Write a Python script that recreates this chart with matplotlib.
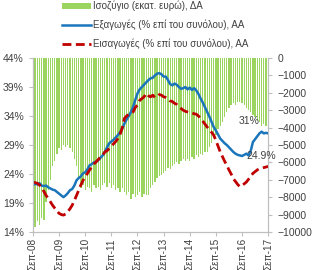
import numpy as np
import matplotlib
matplotlib.use('Agg')
import matplotlib.pyplot as plt
from matplotlib.patches import Patch
from matplotlib.lines import Line2D

plt.rcParams['font.family'] = ['Liberation Sans', 'DejaVu Sans']

# monthly data, Sep-08 .. Sep-17
exports = [22.1, 22.3, 22.2, 22.4, 22.0, 21.9, 22.0, 21.7, 21.5, 21.3, 21.2,
           20.9, 20.6, 20.3, 20.0, 20.3, 20.7, 21.2, 21.4, 22.0, 22.9,
           23.3, 23.6, 24.1, 24.3, 24.8, 25.5, 25.7, 26.0, 26.1, 26.4,
           26.8, 27.2, 27.8, 28.6, 29.3, 29.6, 29.9, 30.3, 30.7, 31.2,
           31.8, 32.7, 33.4, 34.0, 34.7, 35.6, 36.8, 37.9, 38.6, 39.0,
           39.4, 39.8, 40.2, 40.5, 40.6, 41.0, 41.3, 41.4, 41.2, 40.8,
           40.8, 40.2, 39.5, 39.3, 39.6, 39.4, 39.0, 38.7, 38.8, 39.0,
           38.6, 38.9, 38.5, 38.8, 38.4, 37.8, 37.0, 36.3, 35.5, 34.7,
           33.9, 33.0, 32.1, 31.5, 30.8, 30.1, 29.7, 29.3, 29.0, 28.6,
           28.2, 27.8, 27.5, 27.3, 27.2, 27.1, 27.3, 27.5, 27.2, 28.0,
           29.5, 30.0, 30.5, 31.0, 31.3, 31.0, 31.1, 31.0]

imports = [22.6, 22.5, 22.4, 22.1, 21.6, 21.0, 20.3, 19.8, 19.2, 18.6, 18.1,
           17.6, 17.2, 17.0, 16.9, 17.1, 17.5, 18.0, 18.6, 19.4, 20.3,
           21.2, 22.1, 22.9, 23.5, 24.1, 24.7, 25.2, 25.7, 26.1, 26.5,
           26.9, 27.2, 27.8, 28.0, 28.4, 28.8, 29.2, 29.6, 30.1, 30.8,
           32.0, 33.6, 34.0, 34.3, 34.5, 34.7, 35.5, 35.9, 36.7, 37.0,
           37.3, 37.9, 37.5, 37.3, 37.6, 37.2, 37.3, 37.7, 37.6, 37.3,
           37.2, 37.0, 36.6, 36.5, 36.2, 36.0, 35.6, 35.3, 35.0, 34.8,
           34.7, 34.6, 34.5, 34.4, 34.3, 34.0, 33.6, 33.1, 32.6, 32.1,
           31.6, 31.2, 30.7, 29.8, 28.8, 27.8, 27.0, 26.2, 25.5, 24.7,
           24.0, 23.2, 22.7, 22.2, 21.8, 22.0, 22.3, 22.6, 23.1, 23.6,
           24.1, 24.4, 24.7, 24.9, 25.0, 25.1, 25.2, 25.3]

balance = [-9500, -9700, -9400, -9600, -9200, -9300, -8300, -7600, -7000, -6200, -5900,
           -5500, -5200, -5300, -5000, -5100, -5000, -5200, -5400, -5800, -6200,
           -6900, -7500, -7300, -7600, -7400, -7500, -7700, -7300, -7500, -7400,
           -7600, -7300, -7200, -7400, -7200, -7500, -7300, -7600, -7500, -7700,
           -7500, -7700, -7900, -7700, -8100, -7800, -8000, -7900, -7700, -8000,
           -7800, -7900, -7900, -7500, -7300, -7100, -6900, -6800, -6700, -6600,
           -6500, -6300, -6400, -6200, -6100, -6000, -6100, -5900, -5800, -5900,
           -5800, -5900, -5700, -5800, -5600, -5700, -5500, -5600, -5400, -5400,
           -5100, -4900, -4600, -4400, -4100, -3900, -3700, -3400, -3100, -2900,
           -2700, -2600, -2700, -2500, -2500, -2600, -2700, -2900, -3000, -3100,
           -3300, -3400, -3600, -3700, -3900, -3800, -3900, -4000]

tick_labels = ['Σεπ-08', 'Σεπ-09', 'Σεπ-10', 'Σεπ-11', 'Σεπ-12',
               'Σεπ-13', 'Σεπ-14', 'Σεπ-15', 'Σεπ-16', 'Σεπ-17']

x = np.arange(len(exports))
grey = '#BFBFBF'
txt = '#404040'
green = '#9BD45E'
blue = '#1B75BB'
red = '#C00000'

fig = plt.figure(figsize=(3.14, 2.70), dpi=100)
ax = fig.add_axes([0.105, 0.141, 0.749, 0.644])
ax2 = ax.twinx()

# bars on the right axis
ax2.bar(x, balance, width=0.6, color=green, linewidth=0)
ax2.set_ylim(-10000, 0)
ax2.set_yticks(np.arange(-10000, 1, 1000))

# lines on the left axis, drawn above the bars
ax.set_zorder(ax2.get_zorder() + 1)
ax.patch.set_visible(False)
ax.plot(x, exports, color=blue, lw=1.8)
ax.plot(x, imports, color=red, lw=2.0, dashes=(3.2, 1.6))
ax.set_ylim(14, 44)
ax.set_yticks(np.arange(14, 45, 5))
ax.set_yticklabels(['%d%%' % v for v in range(14, 45, 5)])
ax.set_xlim(0, len(exports) - 1)
ax.set_xticks(np.arange(0, len(exports), 12))
ax.set_xticklabels(tick_labels, rotation=90)

for a in (ax, ax2):
    for s in a.spines.values():
        s.set_color(grey)
    a.spines['top'].set_visible(False)
    a.tick_params(colors=grey, labelcolor=txt, labelsize=7.5, length=3, width=0.8)
ax.tick_params(axis='x', labelsize=7.2, pad=1.5)

ax.annotate('31%', (x[-1], exports[-1]), xytext=(-6, 5), textcoords='offset points',
            ha='right', va='bottom', fontsize=7.5, color=txt)
ax.annotate('24.9%', (x[-1], imports[-1]), xytext=(6, 4), textcoords='offset points',
            ha='right', va='bottom', fontsize=7.5, color=txt)

handles = [Patch(facecolor=green, edgecolor='none'),
           Line2D([], [], color=blue, lw=1.8),
           Line2D([], [], color=red, lw=2.0, dashes=(3.2, 1.6))]
labels = ['Ισοζύγιο (εκατ. ευρώ), ΔΑ',
          'Εξαγωγές (% επί του συνόλου), ΑΑ',
          'Εισαγωγές (% επί του συνόλου), ΑΑ']
fig.legend(handles, labels, loc='upper left', bbox_to_anchor=(0.17, 1.03),
           frameon=False, fontsize=7, handlelength=3.0, handleheight=0.6,
           labelspacing=0.85, handletextpad=0.2, labelcolor=txt)

fig.savefig('out.png', dpi=100)
